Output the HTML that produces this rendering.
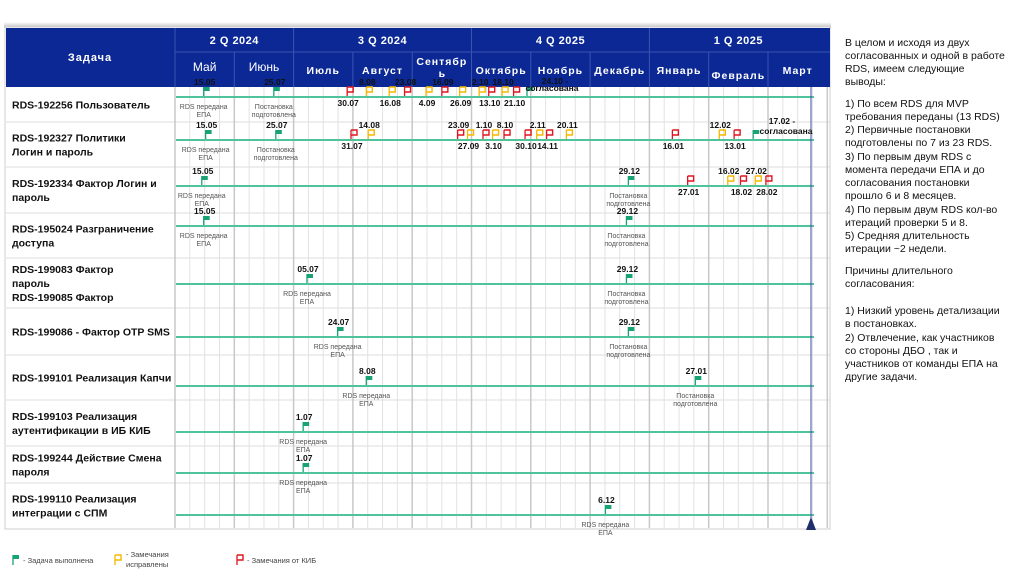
<!DOCTYPE html>
<html><head><meta charset="utf-8">
<style>
html,body{margin:0;padding:0;background:#fff;width:1024px;height:574px;overflow:hidden;}
svg{display:block;font-family:"Liberation Sans","Noto Sans CJK SC",sans-serif;}
</style></head>
<body>
<svg id="chart" width="1024" height="574" viewBox="0 0 1024 574" xmlns="http://www.w3.org/2000/svg">
<defs>
<linearGradient id="shadowTop" x1="0" y1="0" x2="0" y2="1"><stop offset="0" stop-color="#fff"/><stop offset="1" stop-color="#bbb"/></linearGradient>
</defs>
<rect x="4" y="22" width="827" height="6" fill="url(#shadowTop)"/>
<rect x="5" y="27" width="825" height="502" fill="#fff" stroke="#cfcfcf"/>
<g id="grid"></g>
<g id="header"></g>
<g id="rows"></g>
<g id="marks"></g>
<g id="side"></g>
<g id="legend"></g>
</svg>
<script>
// ---- data ----
const months = ["Май","Июнь","Июль","Август","Сентябрь","Октябрь","Ноябрь","Декабрь","Январь","Февраль","Март"];
const monthYears = [2024,2024,2024,2024,2024,2024,2024,2024,2025,2025,2025];
const monthNums = [5,6,7,8,9,10,11,12,1,2,3];
const quarters = ["2 Q 2024","3 Q 2024","4 Q 2025","1 Q 2025"];
const quarterSpans = [2,3,3,3];
const tasks = [
 ["RDS-192256 Пользователь"],
 ["RDS-192327 Политики","Логин и пароль"],
 ["RDS-192334 Фактор Логин и","пароль"],
 ["RDS-195024 Разграничение","доступа"],
 ["RDS-199083 Фактор","пароль","RDS-199085 Фактор"],
 ["RDS-199086 - Фактор OTP SMS"],
 ["RDS-199101 Реализация Капчи"],
 ["RDS-199103 Реализация","аутентификации в ИБ КИБ"],
 ["RDS-199244 Действие Смена","пароля"],
 ["RDS-199110 Реализация","интеграции с СПМ"]
];
const flagRows = [0,0,0,0,0,0,0,0,0,0,0,0,0,0,
 1,1,1,1,1,1,1,1,1,1,1,1,1,1,1,1,1,
 2,2,2,2,2,2,2, 3,3, 4,4, 5,5, 6,6, 7, 8, 9];
const flagDates = ["2024-05-16","2024-06-21","2024-07-29","2024-08-08","2024-08-20","2024-08-28","2024-09-08","2024-09-16","2024-09-25","2024-10-05","2024-10-10","2024-10-17","2024-10-23","2024-10-30",
 "2024-05-17","2024-06-22","2024-07-31","2024-08-09","2024-09-24","2024-09-29","2024-10-07","2024-10-12","2024-10-18","2024-10-29","2024-11-04","2024-11-09","2024-11-19","2025-01-13","2025-02-06","2025-02-13","2025-02-22",
 "2024-05-15","2024-12-21","2025-01-21","2025-02-10","2025-02-16","2025-02-23","2025-02-28",
 "2024-05-16","2024-12-20","2024-07-08","2024-12-20","2024-07-24","2024-12-21","2024-08-08","2025-01-25","2024-07-06","2024-07-06","2024-12-09"];
const flagTypes = ["g","g","r","y","y","r","y","r","y","y","r","y","r","g",
 "g","g","r","y","r","y","r","y","r","r","y","r","y","r","y","r","g",
 "g","g","r","y","r","y","r",
 "g","g","g","g","g","g","g","g","g","g","g"];
const flagLabels = ["15.05","25.07","30.07","8.08","16.08","23.08","4.09","16.09","26.09","2.10","13.10","18.10","21.10","",
 "15.05","25.07","31.07","14.08","23.09","27.09","1.10","3.10","8.10","30.10","2.11","14.11","20.11","16.01","12.02","13.01","",
 "15.05","29.12","27.01","16.02","18.02","27.02","28.02",
 "15.05","29.12","05.07","29.12","24.07","29.12","8.08","27.01","1.07","1.07","6.12"];
const flagLabelPos = ["a","a","b","a","b","a","b","a","b","a","b","a","b","a",
 "a","a","b","a","a","b","a","b","a","b","a","b","a","b","a","b","a",
 "a","a","b","a","b","a","b",
 "a","a","a","a","a","a","a","a","a","a","a"];
const flagNotes = ["RDS передана|ЕПА","Постановка|подготовлена","","","","","","","","","","","","",
 "RDS передана|ЕПА","Постановка|подготовлена","","","","","","","","","","","","","","","",
 "RDS передана|ЕПА","Постановка|подготовлена","","","","","",
 "RDS передана|ЕПА","Постановка|подготовлена","RDS передана|ЕПА","Постановка|подготовлена","RDS передана|ЕПА","Постановка|подготовлена","RDS передана|ЕПА","Постановка|подготовлена","RDS передана|ЕПА","RDS передана|ЕПА","RDS передана|ЕПА"];
const approvedNotes = [["24.10 -","согласована"],["17.02 -","согласована"]];
const sideLines = ["В целом и исходя из двух","согласованных и одной в работе","RDS, имеем следующие","выводы:","","1) По всем RDS для MVP","требования переданы (13 RDS)","2) Первичные постановки","подготовлены по 7 из 23 RDS.","3) По первым двум RDS с","момента передачи ЕПА и до","согласования постановки","прошло 6 и 8 месяцев.","4) По первым двум RDS кол-во","итераций проверки 5 и 8.","5) Средняя длительность","итерации ~2 недели.","","Причины длительного","согласования:","","1) Низкий уровень детализации","в постановках.","2) Отвлечение, как участников","со стороны ДБО , так и","участников от команды ЕПА на","другие задачи."];

// ---- layout ----
const NS="http://www.w3.org/2000/svg";
const X0=175, MW=59.3, HEAD_T=28, HEAD_M=52, HEAD_B=87;
const rowTops=[87,122,167,213,258,308,355,400,446,483,528];
const lineYs=[97,140,186,226,284,337,386,432,473,515];
const TODAY_X=811;
const colors={g:"#1aa372",y:"#f5b800",r:"#e0141e"};
function daysIn(y,m){return new Date(y,m,0).getDate();}
function xOf(ds){
  const [y,m,d]=ds.split("-").map(Number);
  let idx=monthNums.findIndex((mm,i)=>mm===m&&monthYears[i]===y);
  return X0+(idx+(d-1)/daysIn(y,m))*MW;
}
function el(tag,attrs,parent,text){
  const e=document.createElementNS(NS,tag);
  for(const k in attrs)e.setAttribute(k,attrs[k]);
  if(text!==undefined)e.textContent=text;
  parent.appendChild(e);return e;
}
const grid=document.getElementById('grid'),header=document.getElementById('header'),rows=document.getElementById('rows'),marks=document.getElementById('marks'),side=document.getElementById('side'),legend=document.getElementById('legend');

for(let i=1;i<rowTops.length-1;i++){
  const l=el('line',{x1:6,x2:830,y1:rowTops[i],y2:rowTops[i],stroke:"#dcdcdc","stroke-width":1},grid);
  
  
}
for(let i=0;i<=months.length;i++){
  for(let k=0;k<4;k++){
    if(i===months.length&&k>0)break;
    const x=X0+i*MW+k*MW/4;
    const l=el('line',{x1:x,x2:x,y1:HEAD_B,y2:528,stroke:k===0?"#c8c8c8":"#e2e2e2","stroke-width":k===0?1.5:1},grid);
    
    
  }
}
const hb=el('rect',{x:6,y:HEAD_T,width:824,height:HEAD_B-HEAD_T,fill:"#0b2895"},header);


const th=el('text',{x:90,y:61,fill:"#fff","font-size":11,"font-weight":"bold","text-anchor":"middle","letter-spacing":"1"},header,"Задача");


el('line',{x1:X0,x2:X0,y1:HEAD_T,y2:HEAD_B,stroke:"#3a55b0"},header);
el('line',{x1:X0,x2:830,y1:HEAD_M,y2:HEAD_M,stroke:"#3a55b0"},header);
let qi=0;
for(let q=0;q<quarters.length;q++){
  const xa=X0+qi*MW, xb=X0+(qi+quarterSpans[q])*MW;
  if(q>0)el('line',{x1:xa,x2:xa,y1:HEAD_T,y2:HEAD_M,stroke:"#3a55b0"},header);
  const t=el('text',{x:(xa+xb)/2,y:44,fill:"#fff","font-size":11,"font-weight":"bold","text-anchor":"middle","letter-spacing":"0.5"},header,quarters[q]);
  
  
  qi+=quarterSpans[q];
}
for(let i=0;i<months.length;i++){
  const xa=X0+i*MW;
  if(i>0)el('line',{x1:xa,x2:xa,y1:HEAD_M,y2:HEAD_B,stroke:"#3a55b0"},header);
  const reg=i<2;
  let y=[71,71,74,74,65,74,74,74,74,79,74][i];
  const t=el('text',{x:xa+MW/2,y:y,fill:"#fff","font-size":reg?12:10.5,"font-weight":reg?"normal":"bold","text-anchor":"middle","letter-spacing":reg?"0":"1"},header,i===4?"Сентябр":months[i]);
  
  
  if(i===4){el('text',{x:xa+MW/2,y:77,fill:"#fff","font-size":10.5,"font-weight":"bold","text-anchor":"middle"},header,"ь");}
}
for(let r=0;r<tasks.length;r++){
  const n=tasks[r].length, mid=(rowTops[r]+rowTops[r+1])/2;
  const y0=mid-(n-1)*7+4;
  const t=el('text',{x:12,y:y0,fill:"#111","font-size":10.5,"font-weight":"bold"},rows);
  
  
  tasks[r].forEach((s,j)=>{el('tspan',{x:12,y:y0+j*14},t,s);});
  const l=el('line',{x1:176,x2:814,y1:lineYs[r],y2:lineYs[r],stroke:"#4fc39a","stroke-width":2},rows);
  
  
}
const tl=el('line',{x1:TODAY_X,x2:TODAY_X,y1:HEAD_B,y2:520,stroke:"#3a4ea0","stroke-width":1},marks);


const tri=el('polygon',{points:`${TODAY_X-5},530 ${TODAY_X+5},530 ${TODAY_X},517`,fill:"#1f2f6a"},marks);



function drawFlag(parent,x,yb,c,h){
  const g=el('g',{},parent);
  el('line',{x1:x,x2:x,y1:yb,y2:yb-h,stroke:colors[c],"stroke-width":1.3},g);
  if(c==='g')el('rect',{x:x,y:yb-h,width:6,height:4,fill:colors[c]},g);
  else el('path',{d:`M${x} ${yb-h} h6 v5 h-6`,fill:"none",stroke:colors[c],"stroke-width":1.4},g);
  return g;
}
for(let i=0;i<flagDates.length;i++){
  const r=flagRows[i], x=xOf(flagDates[i]), yl=lineYs[r];
  const f=drawFlag(marks,x,yl-1,flagTypes[i],9);
  
  
  const above=flagLabelPos[i]==='a';
  if(flagLabels[i]){
    const lt=el('text',{x:x+1,y:above?yl-12:yl+9,"font-size":8.5,"font-weight":"bold",fill:"#111","text-anchor":"middle"},marks,flagLabels[i]);
    
    
  }
  if(flagNotes[i]){
    const p=flagNotes[i].split("|");
    const nt=el('text',{x:x,y:yl+12,"font-size":7,fill:"#555","text-anchor":"middle"},marks);
    
    
    p.forEach((s,j)=>el('tspan',{x:x,y:yl+12+j*8},nt,s));
  }
}
const ap1=el('text',{x:555,y:84,"font-size":8.5,"font-weight":"bold",fill:"#111","text-anchor":"middle"},marks);


el('tspan',{x:555,y:84},ap1,approvedNotes[0][0]);el('tspan',{x:552,y:91},ap1,approvedNotes[0][1]);
const ap2=el('text',{x:782,y:124,"font-size":8.5,"font-weight":"bold",fill:"#111","text-anchor":"middle"},marks);


el('tspan',{x:782,y:124},ap2,approvedNotes[1][0]);el('tspan',{x:786,y:134},ap2,approvedNotes[1][1]);

const sideY=[46,59,72,85,0,107,120,133,146,160,173,186,199,213,226,239,252,0,274,287,0,314,327,341,354,367,380];
const st=el('text',{"font-size":10.5,fill:"#111"},side);


sideLines.forEach((s,i)=>{if(s)el('tspan',{x:845,y:sideY[i]},st,s);});

const lg=[[13,"g",["- Задача выполнена"]],[115,"y",["- Замечания","исправлены"]],[237,"r",["- Замечания от КИБ"]]];
lg.forEach(([x,c,t])=>{
  const g=el('g',{},legend);
  
  
  drawFlag(g,x,565,c,10);
  const tx=el('text',{"font-size":7.5,fill:"#444"},g);
  if(t.length===1)el('tspan',{x:x+10,y:563},tx,t[0]);
  else{el('tspan',{x:x+11,y:557},tx,t[0]);el('tspan',{x:x+11,y:567},tx,t[1]);}
});
</script>
</body></html>
